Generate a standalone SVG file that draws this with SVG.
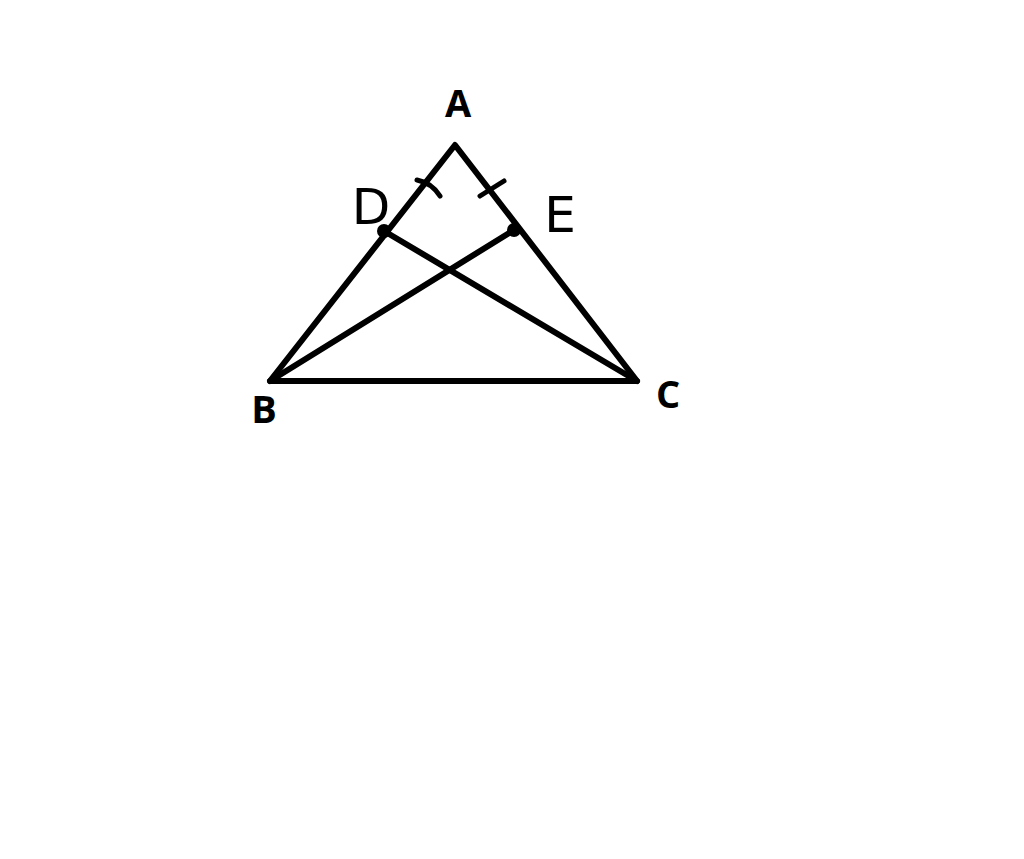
<svg xmlns="http://www.w3.org/2000/svg" width="1024" height="859" viewBox="0 0 1024 859">
<style>
.ln{stroke:#000;stroke-width:6;stroke-linecap:round;stroke-linejoin:round;fill:none}
.tk{stroke:#000;stroke-width:5;stroke-linecap:round;fill:none}
.lb{font-family:"Open Sans","DejaVu Sans",sans-serif;font-weight:bold;font-size:38px;fill:#000}
.hw{font-family:"DejaVu Sans",sans-serif;font-weight:normal;font-size:50px;fill:#000}
</style>
<rect width="1024" height="859" fill="#fff"/>
<g id="connectors">
<path class="ln" d="M270,381 L455,145 L637,381 Z"/>
<line class="ln" x1="384" y1="231" x2="637" y2="381"/>
<line class="ln" x1="514" y1="230" x2="270" y2="381"/>
<path class="tk" d="M417,180 Q432,183 440,196"/>
<line class="tk" x1="480" y1="196" x2="504" y2="181"/>
</g>
<g id="A"><text class="lb" x="458" y="117" text-anchor="middle">A</text></g>
<g id="B"><text class="lb" x="264" y="423" text-anchor="middle">B</text></g>
<g id="C"><text class="lb" x="668" y="408" text-anchor="middle">C</text></g>
<g id="D"><circle cx="384" cy="231" r="7" fill="#000"/><text class="hw" x="371" y="224" text-anchor="middle">D</text></g>
<g id="E"><circle cx="514" cy="230" r="7" fill="#000"/><text class="hw" x="560" y="232" text-anchor="middle">E</text></g>
</svg>
